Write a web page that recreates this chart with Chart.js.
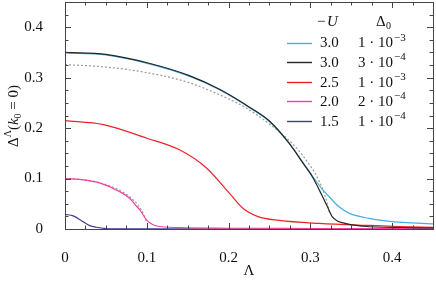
<!DOCTYPE html>
<html>
<head>
<meta charset="utf-8">
<script src="https://cdn.jsdelivr.net/npm/chart.js@4"></script>
<style>
  html, body { margin: 0; padding: 0; background: #fff; }
  #wrap { width: 436px; height: 283px; }
</style>
</head>
<body>
<div id="wrap"><canvas id="chart" width="436" height="283"></canvas></div>
<script>
// values
const xTicks = [0, 0.1, 0.2, 0.3, 0.4];
const yTicks = [0, 0.1, 0.2, 0.3, 0.4];

const uLabels = ['3.0', '3.0', '2.5', '2.0', '1.5'];
const d0Mant = ['1', '3', '1', '2', '1'];
const d0Exp = ['\u22123', '\u22124', '\u22123', '\u22124', '\u22124'];
const colors = ['#46aee0', '#252525', '#f0202a', '#f0429e', '#3c3c98'];

const cyanX = [0, 0.05, 0.104, 0.152, 0.189, 0.228, 0.25, 0.274, 0.29, 0.303, 0.315, 0.323, 0.335, 0.348, 0.372, 0.4, 0.425, 0.45];
const cyanY = [0.349, 0.345, 0.327, 0.303, 0.276, 0.238, 0.213, 0.170, 0.134, 0.104, 0.078, 0.064, 0.044, 0.031, 0.021, 0.0145, 0.012, 0.010];

const blackX = [0, 0.05, 0.104, 0.152, 0.189, 0.228, 0.25, 0.274, 0.29, 0.303, 0.315, 0.321, 0.327, 0.333, 0.339, 0.351, 0.365, 0.38, 0.41, 0.45];
const blackY = [0.350, 0.346, 0.328, 0.304, 0.277, 0.239, 0.214, 0.170, 0.133, 0.102, 0.064, 0.044, 0.024, 0.016, 0.0125, 0.008, 0.0055, 0.004, 0.003, 0.002];

const redX = [0, 0.047, 0.1, 0.14, 0.173, 0.201, 0.2175, 0.236, 0.262, 0.311, 0.372, 0.41, 0.45];
const redY = [0.215, 0.207, 0.180, 0.157, 0.121, 0.071, 0.041, 0.0245, 0.017, 0.011, 0.007, 0.005, 0.0034];

const pinkX = [0, 0.02, 0.043, 0.067, 0.079, 0.087, 0.0915, 0.0996, 0.104, 0.112, 0.14, 0.2, 0.3, 0.45];
const pinkY = [0.100, 0.098, 0.091, 0.074, 0.061, 0.046, 0.038, 0.018, 0.012, 0.006, 0.0027, 0.0015, 0.001, 0.0005];

const blueX = [0, 0.01, 0.022, 0.0305, 0.0386, 0.05, 0.07, 0.45];
const blueY = [0.029, 0.026, 0.0145, 0.0066, 0.0034, 0.001, 0.0003, 0];

// dotted gray comparison curves
const mfX = [0, 0.05, 0.1, 0.152, 0.2, 0.2215, 0.25, 0.28, 0.3, 0.31, 0.318, 0.3235];
const mfY = [0.326, 0.321, 0.310, 0.290, 0.258, 0.240, 0.208, 0.166, 0.125, 0.098, 0.066, 0.032];
const mf2X = [0, 0.03, 0.06, 0.079, 0.09, 0.097, 0.1];
const mf2Y = [0.100, 0.096, 0.082, 0.064, 0.046, 0.026, 0.012];

function pts(xs, ys) {
  return xs.map((x, i) => ({x: x, y: ys[i]}));
}

const serif = '"Liberation Serif", "DejaVu Serif", serif';

// chart.js paints dataset 0 last, so the top line goes first
const datasets = [
  {data: pts(blackX, blackY), borderColor: colors[1]},
  {data: pts(cyanX, cyanY), borderColor: colors[0]},
  {data: pts(mfX, mfY), borderColor: '#9a9a9a', borderDash: [2, 2]},
  {data: pts(redX, redY), borderColor: colors[2]},
  {data: pts(pinkX, pinkY), borderColor: colors[3]},
  {data: pts(mf2X, mf2Y), borderColor: '#9a9a9a', borderDash: [2, 2]},
  {data: pts(blueX, blueY), borderColor: colors[4]}
].map(d => Object.assign({borderWidth: 1.2, pointRadius: 0, cubicInterpolationMode: 'monotone', fill: false}, d));

function drawSup(ctx, base, sup, x, y, size) {
  ctx.font = size + 'px ' + serif;
  ctx.fillText(base, x, y);
  let w = ctx.measureText(base).width;
  ctx.font = Math.round(size * 0.7) + 'px ' + serif;
  ctx.fillText(sup, x + w + 1, y - size * 0.38);
}

const framePlugin = {
  id: 'frame',
  afterDraw(chart) {
    const ctx = chart.ctx;
    const a = chart.chartArea;
    const xs = chart.scales.x, ys = chart.scales.y;
    ctx.save();
    ctx.strokeStyle = '#444';
    ctx.lineWidth = 1;
    ctx.strokeRect(Math.round(a.left) + 0.5, Math.round(a.top) + 0.5, Math.round(a.right - a.left), Math.round(a.bottom - a.top));
    ctx.beginPath();
    for (let i = 0; i <= 18; i++) {
      const len = i % 4 === 0 ? 6 : 3.5;
      const px = Math.round(xs.getPixelForValue(i * 0.025)) + 0.5;
      ctx.moveTo(px, a.bottom); ctx.lineTo(px, a.bottom - len);
      ctx.moveTo(px, a.top); ctx.lineTo(px, a.top + len);
      const py = Math.round(ys.getPixelForValue(i * 0.025)) + 0.5;
      ctx.moveTo(a.left, py); ctx.lineTo(a.left + len, py);
      ctx.moveTo(a.right, py); ctx.lineTo(a.right - len, py);
    }
    ctx.stroke();

    // legend
    ctx.fillStyle = '#111';
    ctx.textBaseline = 'middle';
    ctx.textAlign = 'left';
    ctx.font = '15px ' + serif;
    ctx.fillText('\u2212', 317, 22);
    ctx.font = 'italic 15px ' + serif;
    ctx.fillText('U', 327, 22);
    ctx.font = '15px ' + serif;
    ctx.fillText('\u0394', 376, 22);
    ctx.font = '10px ' + serif;
    ctx.fillText('0', 386, 26);
    for (let i = 0; i < uLabels.length; i++) {
      const y = 42.5 + i * 19.6;
      ctx.strokeStyle = colors[i];
      ctx.lineWidth = 1.4;
      ctx.beginPath();
      ctx.moveTo(287, Math.round(y) + 0.5); ctx.lineTo(312, Math.round(y) + 0.5);
      ctx.stroke();
      ctx.font = '15px ' + serif;
      ctx.fillText(uLabels[i], 320, y + 1);
      drawSup(ctx, d0Mant[i] + ' \u00b7 10', d0Exp[i], 358, y + 1, 15);
    }

    // axis titles
    ctx.font = '15px ' + serif;
    ctx.textAlign = 'center';
    ctx.fillText('\u039b', 249, 271);
    ctx.save();
    ctx.translate(14, 116);
    ctx.rotate(-Math.PI / 2);
    ctx.textAlign = 'left';
    const parts = [
      ['\u0394', '15px', 0],
      ['\u039b', '10px', -6],
      ['(', '15px', 0],
      ['k', 'italic 15px', 0],
      ['0', '10px', 4],
      [' = 0)', '15px', 0]
    ];
    let total = 0;
    parts.forEach(p => { ctx.font = p[1] + ' ' + serif; total += ctx.measureText(p[0]).width; });
    let cx = -total / 2;
    parts.forEach(p => {
      ctx.font = p[1] + ' ' + serif;
      ctx.fillText(p[0], cx, p[2]);
      cx += ctx.measureText(p[0]).width;
    });
    ctx.restore();
    ctx.restore();
  }
};

new Chart(document.getElementById('chart'), {
  type: 'line',
  data: {datasets: datasets},
  options: {
    responsive: false,
    animation: false,
    layout: {padding: {top: 2, right: 3, left: 0, bottom: 0}},
    plugins: {legend: {display: false}, tooltip: {enabled: false}},
    scales: {
      x: {
        type: 'linear', min: 0, max: 0.45,
        afterBuildTicks: s => { s.ticks = xTicks.map(v => ({value: v})); },
        afterFit: s => { s.height = 54; s.paddingLeft = 0; s.paddingRight = 0; },
        grid: {display: false},
        border: {display: false},
        ticks: {
          color: '#111', padding: 12, maxRotation: 0,
          font: {family: serif, size: 15},
          callback: v => v === 0 ? '0' : v.toFixed(1)
        }
      },
      y: {
        min: 0, max: 0.45,
        afterBuildTicks: s => { s.ticks = yTicks.map(v => ({value: v})); },
        afterFit: s => { s.width = 65; s.paddingTop = 0; s.paddingBottom = 0; },
        grid: {display: false},
        border: {display: false},
        ticks: {
          color: '#111', padding: 14,
          font: {family: serif, size: 15},
          callback: v => v === 0 ? '0' : v.toFixed(1)
        }
      }
    }
  },
  plugins: [framePlugin]
});
</script>
</body>
</html>
